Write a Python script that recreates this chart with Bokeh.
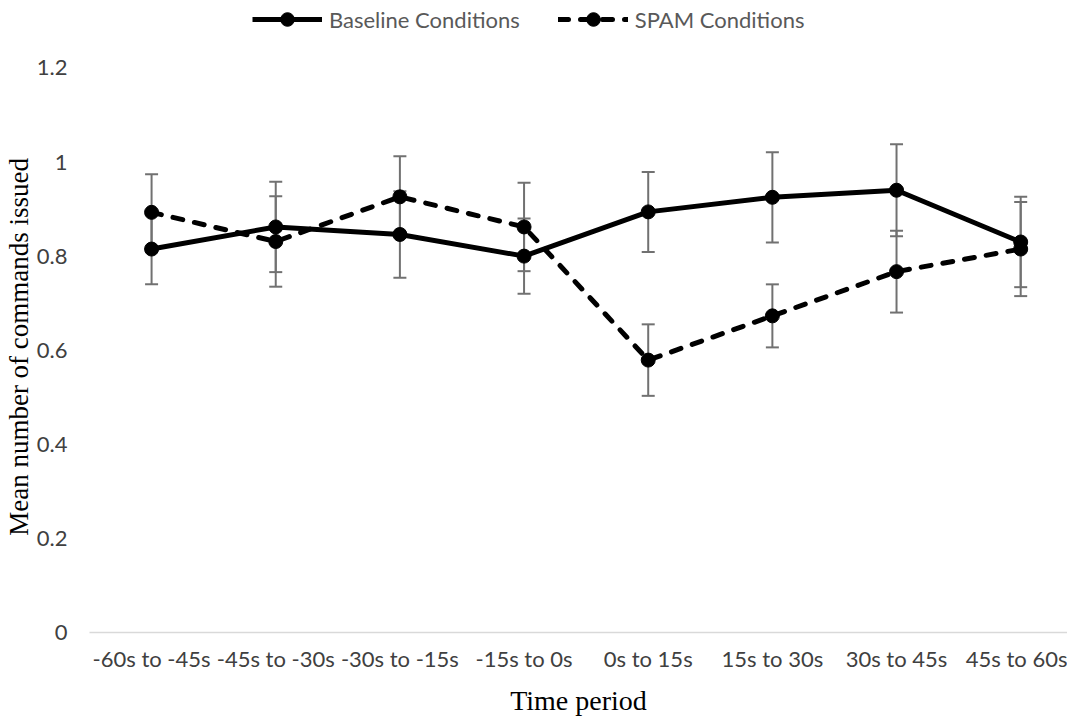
from bokeh.plotting import figure
from bokeh.models import (ColumnDataSource, Range1d, FixedTicker, Whisker, TeeHead,
                          Legend, LegendItem)
from bokeh.embed import file_html
from bokeh.resources import INLINE

categories = ["-60s to -45s", "-45s to -30s", "-30s to -15s", "-15s to 0s",
              "0s to 15s", "15s to 30s", "30s to 45s", "45s to 60s"]
baseline = [0.815, 0.862, 0.846, 0.800, 0.894, 0.925, 0.940, 0.830]
baseline_err = [0.075, 0.096, 0.092, 0.080, 0.085, 0.096, 0.098, 0.096]
spam = [0.893, 0.831, 0.926, 0.862, 0.579, 0.673, 0.767, 0.815]
spam_err = [0.081, 0.096, 0.086, 0.094, 0.076, 0.067, 0.087, 0.100]
y_ticks = [0, 0.2, 0.4, 0.6, 0.8, 1, 1.2]
y_labels = ["0", "0.2", "0.4", "0.6", "0.8", "1", "1.2"]

xs = list(range(len(categories)))
src_b = ColumnDataSource(dict(x=xs, y=baseline,
                              upper=[v + e for v, e in zip(baseline, baseline_err)],
                              lower=[v - e for v, e in zip(baseline, baseline_err)]))
src_s = ColumnDataSource(dict(x=xs, y=spam,
                              upper=[v + e for v, e in zip(spam, spam_err)],
                              lower=[v - e for v, e in zip(spam, spam_err)]))

TICK_FONT = "Lato"
# frame spans the whole top area (legend sits inside it); the y axis ends at 1.2
p = figure(frame_width=978, frame_height=632, output_backend="svg", toolbar_location=None,
           x_range=Range1d(-0.5, 7.377), y_range=Range1d(0, 1.3433),
           min_border_left=88, min_border_right=0, min_border_top=0, min_border_bottom=80)
p.outline_line_color = None
p.xgrid.visible = False
p.ygrid.visible = False
p.background_fill_color = "white"
p.border_fill_color = "white"

ERR = "#717171"
for src in (src_b, src_s):
    w = Whisker(source=src, base="x", upper="upper", lower="lower",
                line_color=ERR, line_width=2,
                upper_head=TeeHead(size=13, line_color=ERR, line_width=2),
                lower_head=TeeHead(size=13, line_color=ERR, line_width=2))
    p.add_layout(w)

lb = p.line("x", "y", source=src_b, line_color="black", line_width=5, line_join="round")
sb = p.scatter("x", "y", source=src_b, size=14, color="black")
ls = p.line("x", "y", source=src_s, line_color="black", line_width=5,
            line_dash="10 12", line_cap="round", line_join="round")
ss = p.scatter("x", "y", source=src_s, size=14, color="black")

# axes
xa = p.xaxis[0]
xa.ticker = FixedTicker(ticks=xs)
xa.major_label_overrides = {i: c for i, c in zip(xs, categories)}
xa.axis_line_color = "#d9d9d9"
xa.axis_line_width = 1.5
xa.major_tick_line_color = None
xa.minor_tick_line_color = None
xa.major_tick_out = 0
xa.major_tick_in = 0
xa.major_label_standoff = 12
xa.major_label_text_font = TICK_FONT
xa.major_label_text_font_size = "22px"
xa.major_label_text_color = "#404040"
xa.axis_label = "Time period"
xa.axis_label_text_font = "Liberation Serif"
xa.axis_label_text_font_size = "28px"
xa.axis_label_text_font_style = "normal"
xa.axis_label_text_color = "black"
xa.axis_label_standoff = 10

ya = p.yaxis[0]
ya.ticker = FixedTicker(ticks=y_ticks)
ya.major_label_overrides = {t: l for t, l in zip(y_ticks, y_labels)}
ya.axis_line_color = None
ya.major_tick_line_color = None
ya.minor_tick_line_color = None
ya.major_tick_out = 0
ya.major_tick_in = 0
ya.major_label_standoff = 22
ya.major_label_text_font = TICK_FONT
ya.major_label_text_font_size = "22px"
ya.major_label_text_color = "#404040"
# trailing no-break spaces keep the title centred on the 0-1.2 part of the frame
ya.axis_label = "Mean number of commands issued" + "\u00a0" * 9
ya.axis_label_text_font = "Liberation Serif"
ya.axis_label_text_font_size = "27px"
ya.axis_label_text_font_style = "normal"
ya.axis_label_text_color = "black"
ya.axis_label_standoff = 0

legend = Legend(items=[LegendItem(label="Baseline Conditions", renderers=[lb, sb]),
                       LegendItem(label="SPAM Conditions", renderers=[ls, ss])],
                orientation="horizontal", location=(163, 596),
                glyph_width=70, glyph_height=34, label_standoff=7, spacing=38,
                padding=0, margin=0, border_line_color=None, background_fill_alpha=0,
                label_text_font=TICK_FONT, label_text_font_size="22px",
                label_text_color="#595959")
p.add_layout(legend, "center")

open("out.html", "w").write(file_html(p, INLINE))
